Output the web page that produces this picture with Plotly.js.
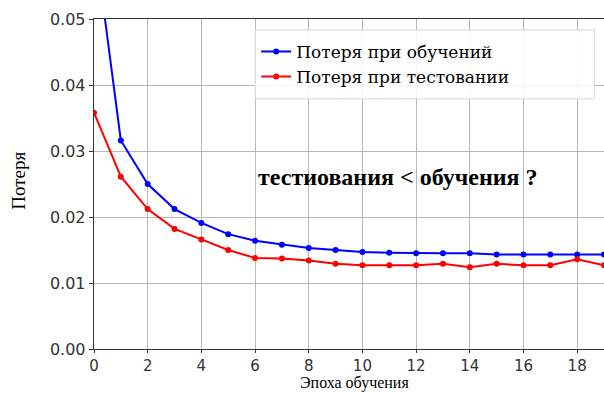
<!DOCTYPE html>
<html><head><meta charset="utf-8">
<script src="https://cdn.plot.ly/plotly-3.0.1.min.js"></script>
<style>html,body{margin:0;padding:0;background:#fff}</style>
</head><body>
<div id="chart" style="width:604px;height:393px"></div>
<script>
const epochs = [0,1,2,3,4,5,6,7,8,9,10,11,12,13,14,15,16,17,18,19];
const trainLoss = [0.0627,0.0316,0.0250,0.0212,0.0191,0.0174,0.0164,0.0158,0.0153,0.0150,0.0147,0.0146,0.0145,0.0145,0.0145,0.0143,0.0143,0.0143,0.0143,0.0143];
const testLoss = [0.0358,0.0261,0.0212,0.0182,0.0166,0.0150,0.0138,0.0137,0.0134,0.0129,0.0127,0.0127,0.0127,0.0129,0.0124,0.0129,0.0127,0.0127,0.0136,0.0127];
const seriesNames = ['Потеря при обучений','Потеря при тестовании'];
const xTicks = [0,2,4,6,8,10,12,14,16,18];
const yTicks = [0,0.01,0.02,0.03,0.04,0.05];
const yTickText = ['0.00','0.01','0.02','0.03','0.04','0.05'];

const traces = [
  {x: epochs, y: trainLoss, name: seriesNames[0], mode: 'lines+markers',
   line: {color: '#0000ff', width: 2}, marker: {color: '#0000ff', size: 6}},
  {x: epochs, y: testLoss, name: seriesNames[1], mode: 'lines+markers',
   line: {color: '#ff0000', width: 2}, marker: {color: '#ff0000', size: 6}}
];
const layout = {
  width: 604, height: 393,
  margin: {l: 94, r: 0, t: 19, b: 44},
  paper_bgcolor: '#ffffff', plot_bgcolor: '#ffffff',
  showlegend: true,
  legend: {x: 0.318, y: 0.955, xanchor: 'left', yanchor: 'top',
    bgcolor: 'rgba(0,0,0,0)', borderwidth: 0,
    font: {family: 'DejaVu Serif', size: 17, color: '#000'}, tracegroupgap: 2},
  shapes: [
    {type: 'rect', xref: 'paper', yref: 'paper', x0: 0.316, x1: 0.981, y0: 0.758, y1: 0.967,
     line: {color: '#d8d8d8', width: 1}, fillcolor: 'rgba(255,255,255,0.85)', layer: 'above'}
  ],
  xaxis: {range: [0, 19], tickvals: xTicks, showgrid: true, gridcolor: '#b8b8b8', gridwidth: 1,
    zeroline: false, showline: true, linecolor: '#333', linewidth: 1.3, mirror: true,
    ticks: 'outside', ticklen: 3, tickcolor: '#333',
    tickfont: {family: 'DejaVu Sans', size: 15, color: '#333333'}},
  yaxis: {range: [0, 0.05], tickvals: yTicks, ticktext: yTickText, showgrid: true, gridcolor: '#b8b8b8', gridwidth: 1,
    zeroline: false, showline: true, linecolor: '#333', linewidth: 1.3,
    ticks: 'outside', ticklen: 4, tickcolor: '#333',
    tickfont: {family: 'DejaVu Sans', size: 16, color: '#333333'}},
  annotations: [
    {text: 'Эпоха обучения', xref: 'paper', yref: 'paper', x: 0.51, y: -0.137,
     xanchor: 'center', yanchor: 'bottom', showarrow: false,
     font: {family: 'Liberation Serif', size: 16, color: '#000'}},
    {text: 'Потеря', xref: 'paper', yref: 'paper', x: -0.147, y: 0.51, textangle: -90,
     xanchor: 'center', yanchor: 'middle', showarrow: false,
     font: {family: 'Liberation Serif', size: 19, color: '#000'}},
    {text: '<b>тестиования &lt; обучения ?</b>', xref: 'paper', yref: 'paper', x: 0.597, y: 0.52,
     xanchor: 'center', yanchor: 'middle', showarrow: false,
     font: {family: 'Liberation Serif', size: 24, color: '#000'}}
  ]
};
Plotly.newPlot('chart', traces, layout, {displayModeBar: false, staticPlot: true});
</script>
</body></html>
